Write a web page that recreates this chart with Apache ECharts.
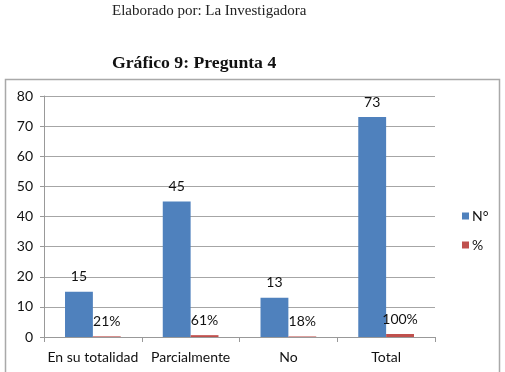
<!DOCTYPE html>
<html>
<head>
<meta charset="utf-8">
<script src="https://cdn.jsdelivr.net/npm/echarts@6/dist/echarts.min.js"></script>
<style>
  html, body { margin: 0; padding: 0; background: #fff; }
  #chart-container { width: 505px; height: 372px; }
</style>
</head>
<body>
<div id="chart-container"></div>
<script>
var categories = ['En su totalidad', 'Parcialmente', 'No', 'Total'];
var countValues = [15, 45, 13, 73];
var pctValues = [0.21, 0.61, 0.18, 1.00];
var yTicks = { min: 0, max: 80, interval: 10 };

var dom = document.getElementById('chart-container');
var myChart = echarts.init(dom, null, { renderer: 'canvas' });

var font = 'Lato, "Open Sans", sans-serif';

var option = {
    animation: false,
    textStyle: { fontFamily: font },
    title: [{
        text: 'Elaborado por: La Investigadora',
        left: 107,
        top: -1,
        textStyle: { fontFamily: '"Liberation Serif", serif', fontSize: 15, fontWeight: 'normal', color: '#222' }
    }, {
        text: 'Gráfico 9: Pregunta 4',
        left: 107,
        top: 49,
        textStyle: { fontFamily: '"Liberation Serif", serif', fontSize: 17.7, fontWeight: 'bold', color: '#111' }
    }],
    graphic: [{
        type: 'rect',
        shape: { x: 5.5, y: 79.5, width: 494, height: 320 },
        style: { fill: 'none', stroke: '#a9a9a9', lineWidth: 1.5 },
        silent: true
    }],
    legend: {
        orient: 'vertical',
        left: 457,
        top: 204,
        itemWidth: 7,
        itemHeight: 7,
        itemGap: 15,
        icon: 'rect',
        textStyle: { fontFamily: font, fontSize: 14, color: '#111', padding: [0, 0, 0, -2] },
        data: ['N°', '%']
    },
    grid: { left: 44, right: 70, top: 96, bottom: 35, containLabel: false },
    xAxis: {
        type: 'category',
        data: categories,
        axisLine: { lineStyle: { color: '#999' } },
        axisTick: { show: true, interval: 0, length: 5, lineStyle: { color: '#999' } },
        axisLabel: { margin: 13, fontSize: 14, color: '#111', fontFamily: font, interval: 0 }
    },
    yAxis: {
        type: 'value',
        min: yTicks.min,
        max: yTicks.max,
        interval: yTicks.interval,
        axisLine: { show: true, lineStyle: { color: '#999' } },
        axisTick: { show: true, length: 4, lineStyle: { color: '#999' } },
        axisLabel: { margin: 11, fontSize: 14, color: '#111', fontFamily: font },
        splitLine: { lineStyle: { color: '#a6a6a6' } }
    },
    series: [{
        name: 'N°',
        type: 'bar',
        data: countValues,
        barGap: '0%',
        barCategoryGap: '43%',
        itemStyle: { color: '#4f81bd' },
        label: { show: true, position: 'top', distance: 8, fontSize: 14, color: '#111', fontFamily: font }
    }, {
        name: '%',
        type: 'bar',
        data: pctValues,
        itemStyle: { color: '#c0504d' },
        label: {
            show: true, position: 'top', distance: 8, fontSize: 14, color: '#111', fontFamily: font,
            formatter: function (p) { return Math.round(p.value * 100) + '%'; }
        }
    }]
};

myChart.setOption(option);
window.addEventListener('resize', myChart.resize);
</script>
</body>
</html>
